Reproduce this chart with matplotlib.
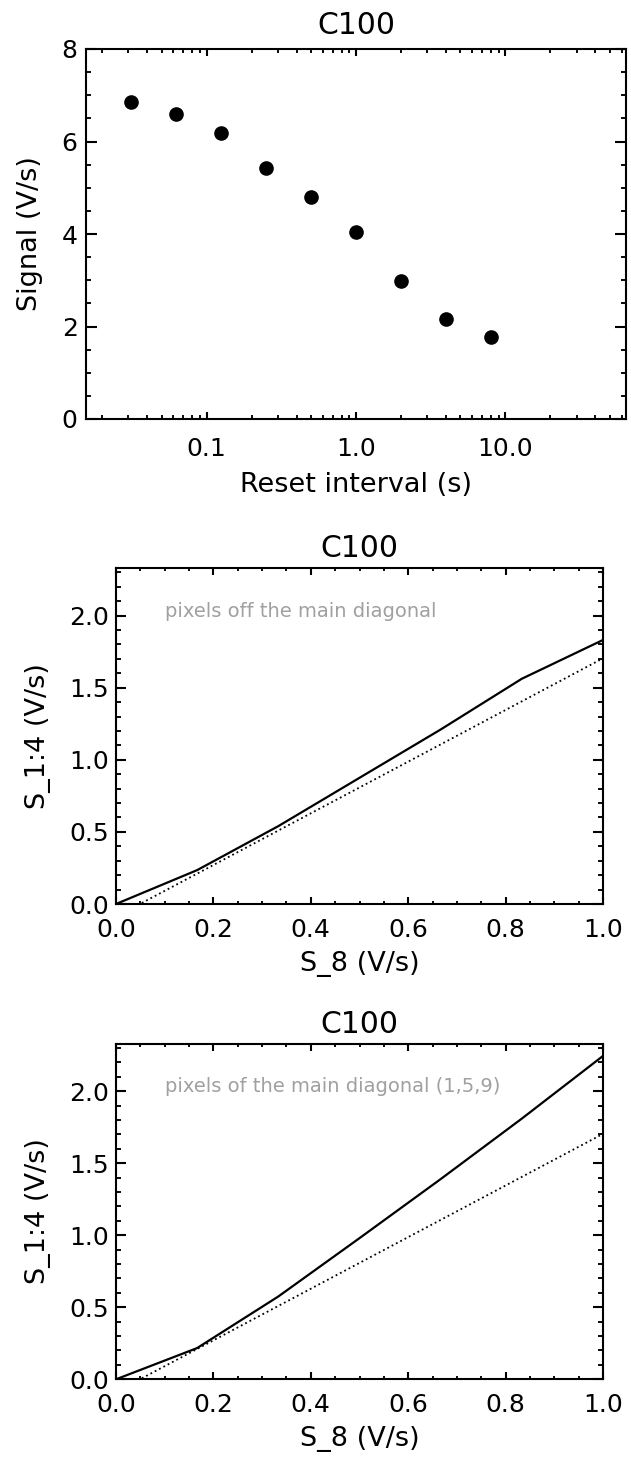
import matplotlib
matplotlib.use("Agg")
import matplotlib.pyplot as plt
from matplotlib.ticker import MultipleLocator, LogLocator, FuncFormatter, NullFormatter

detector = "C100"

# Signal measured at each reset interval
reset_interval_s = [1/32, 1/16, 1/8, 1/4, 1/2, 1, 2, 4, 8]
signal_v_per_s = [6.86, 6.60, 6.19, 5.42, 4.81, 4.04, 2.99, 2.17, 1.78]

# S_1:4 as a function of S_8
s8_levels = [0, 1/6, 1/3, 1/2, 2/3, 5/6, 1]
s14_off_diagonal = [0, 0.235, 0.54, 0.875, 1.21, 1.562, 1.831]
s14_main_diagonal = [0, 0.217, 0.575, 0.98, 1.39, 1.81, 2.245]

# straight reference relation (dotted)
reference_s8 = [0.0, 1.0]
reference_s14 = [-0.088, 1.704]

notes = ["pixels off the main diagonal", "pixels of the main diagonal (1,5,9)"]

plt.rcParams["font.family"] = ["DejaVu Sans"]
W, H = 631, 1457
fig = plt.figure(figsize=(W / 100, H / 100), dpi=100)

TICK_FS = 18
LABEL_FS = 19.5
TITLE_FS = 21.5
LW = 1.5


def px_axes(left, top, right, bottom):
    return fig.add_axes([left / W, 1 - bottom / H, (right - left) / W, (bottom - top) / H])


def style(ax, xlen_px, ylen_px, xpad, ypad):
    for s in ax.spines.values():
        s.set_linewidth(LW)
    # tick length proportional to the perpendicular plot size
    ax.tick_params(axis="x", which="major", direction="in", top=True, bottom=True,
                   length=0.02 * ylen_px * 0.72, width=LW, labelsize=TICK_FS, pad=xpad)
    ax.tick_params(axis="x", which="minor", direction="in", top=True, bottom=True,
                   length=0.01 * ylen_px * 0.72, width=LW * 0.9)
    ax.tick_params(axis="y", which="major", direction="in", left=True, right=True,
                   length=0.02 * xlen_px * 0.72, width=LW, labelsize=TICK_FS, pad=ypad)
    ax.tick_params(axis="y", which="minor", direction="in", left=True, right=True,
                   length=0.01 * xlen_px * 0.72, width=LW * 0.9)


# --- top: signal vs reset interval ---
ax1 = px_axes(86, 49, 626, 419)
ax1.plot(reset_interval_s, signal_v_per_s, "o", color="black", markersize=9.5, linestyle="none")
ax1.set_xscale("log")
ax1.set_xlim(1 / 64, 64)
ax1.set_ylim(0, 8)
ax1.xaxis.set_major_locator(LogLocator(base=10, numticks=10))
ax1.xaxis.set_minor_locator(LogLocator(base=10, subs=range(2, 10), numticks=20))
ax1.xaxis.set_major_formatter(FuncFormatter(lambda v, p: f"{v:.1f}"))
ax1.xaxis.set_minor_formatter(NullFormatter())
ax1.yaxis.set_major_locator(MultipleLocator(2))
ax1.yaxis.set_minor_locator(MultipleLocator(0.5))
style(ax1, 540, 370, 13, 6)
ax1.set_title(detector, fontsize=TITLE_FS, pad=11)
ax1.set_xlabel("Reset interval (s)", fontsize=LABEL_FS)
ax1.set_ylabel("Signal (V/s)", fontsize=LABEL_FS)
ax1.xaxis.set_label_coords(0.5, -66 / 370)
ax1.xaxis.label.set_va("center")
ax1.yaxis.set_label_coords(-56 / 540, 0.5)
ax1.yaxis.label.set_va("center")

# --- middle and bottom: S_1:4 vs S_8 ---
panels = [(568, 904, s14_off_diagonal, notes[0]),
          (1043.7, 1379.3, s14_main_diagonal, notes[1])]
for top, bottom, s14, note in panels:
    ax = px_axes(116, top, 603, bottom)
    ax.plot(s8_levels, s14, color="black", linewidth=1.6, solid_joinstyle="miter")
    ax.plot(reference_s8, reference_s14, color="black", linewidth=1.3,
            linestyle=(0, (1, 1.7)))
    ax.set_xlim(0, 1)
    ax.set_ylim(0, 2.33)
    ax.xaxis.set_major_locator(MultipleLocator(0.2))
    ax.xaxis.set_minor_locator(MultipleLocator(0.05))
    ax.yaxis.set_major_locator(MultipleLocator(0.5))
    ax.yaxis.set_minor_locator(MultipleLocator(0.1))
    ax.xaxis.set_major_formatter(FuncFormatter(lambda v, p: f"{v:.1f}"))
    ax.yaxis.set_major_formatter(FuncFormatter(lambda v, p: f"{v:.1f}"))
    style(ax, 487, 336, 10, 5)
    ax.set_title(detector, fontsize=TITLE_FS, pad=8)
    ax.set_xlabel("S_8 (V/s)", fontsize=LABEL_FS)
    ax.set_ylabel("S_1:4 (V/s)", fontsize=LABEL_FS)
    ax.xaxis.set_label_coords(0.5, -60 / 336)
    ax.xaxis.label.set_va("center")
    ax.yaxis.set_label_coords(-77.5 / 487, 0.5)
    ax.yaxis.label.set_va("center")
    ax.text(0.1, 2.03, note, fontsize=14, color="#a0a0a0", va="center", ha="left")

fig.savefig("out.png", dpi=100)
